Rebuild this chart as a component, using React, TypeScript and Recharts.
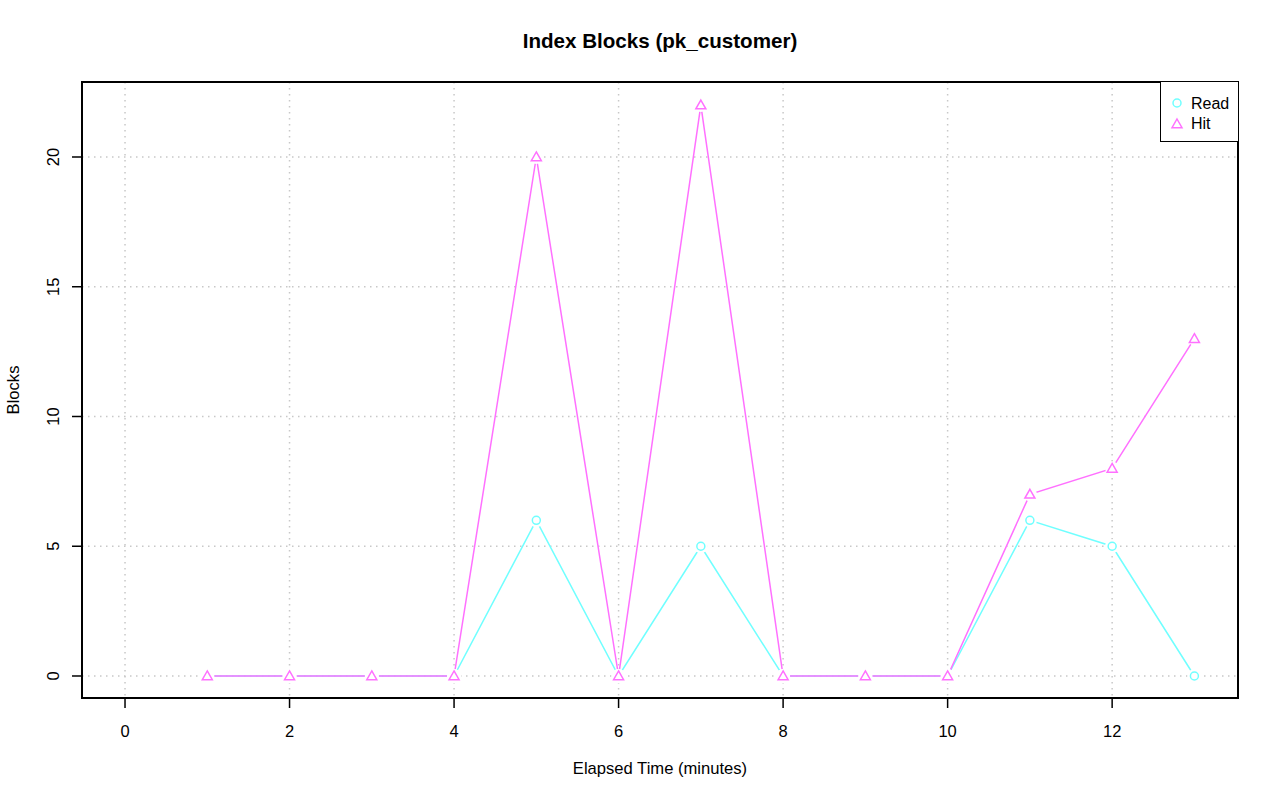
import { LineChart, Line, XAxis, YAxis, CartesianGrid, ReferenceArea } from "recharts";

const minutes = [1, 2, 3, 4, 5, 6, 7, 8, 9, 10, 11, 12, 13];
const readBlocks = [0, 0, 0, 0, 6, 0, 5, 0, 0, 0, 6, 5, 0];
const hitBlocks = [0, 0, 0, 0, 20, 0, 22, 0, 0, 0, 7, 8, 13];
const xTicks = [0, 2, 4, 6, 8, 10, 12];
const yTicks = [0, 5, 10, 15, 20];

const READ = "#70FFFF";
const HIT = "#FF70FF";
const FONT = "'Liberation Sans', Arial, Helvetica, sans-serif";

const X_DOMAIN = [-0.523, 13.53];
const Y_DOMAIN = [-0.848, 22.89];

const data = minutes.map((m, i) => ({
  minute: m,
  read: readBlocks[i],
  hit: hitBlocks[i],
}));

function CircleDot(props: any) {
  const { cx, cy } = props;
  if (cx == null || cy == null) return null;
  return (
    <g>
      <circle cx={cx} cy={cy} r={7} fill="#fff" />
      <circle cx={cx} cy={cy} r={4} fill="none" stroke={READ} strokeWidth={1.5} />
    </g>
  );
}

function TriangleDot(props: any) {
  const { cx, cy } = props;
  if (cx == null || cy == null) return null;
  const s = 5;
  return (
    <g>
      <circle cx={cx} cy={cy} r={7} fill="#fff" />
      <path
        d={`M${cx},${cy - s} L${cx + s},${cy + s * 0.75} L${cx - s},${cy + s * 0.75} Z`}
        fill="none"
        stroke={HIT}
        strokeWidth={1.5}
      />
    </g>
  );
}

function YTick(props: any) {
  const { y, payload } = props;
  return (
    <text
      x={59}
      y={y}
      transform={`rotate(-90, 59, ${y})`}
      textAnchor="middle"
      fontSize={16.5}
      fontFamily={FONT}
      fill="#000"
    >
      {payload.value}
    </text>
  );
}

function XTick(props: any) {
  const { x, payload } = props;
  return (
    <text x={x} y={737} textAnchor="middle" fontSize={16.5} fontFamily={FONT} fill="#000">
      {payload.value}
    </text>
  );
}

export default function App() {
  return (
    <div style={{ position: "absolute", left: 0, top: 0, width: 1280, height: 801, background: "#fff", fontFamily: FONT }}>
      <div style={{ position: "absolute", left: 0, width: 1320, top: 29, textAlign: "center", fontWeight: "bold", fontSize: 20.6 }}>
        Index Blocks (pk_customer)
      </div>
      <div style={{ position: "absolute", left: 0, width: 1320, top: 759, textAlign: "center", fontSize: 16.6 }}>
        Elapsed Time (minutes)
      </div>
      <div
        style={{
          position: "absolute",
          left: 14,
          top: 390,
          fontSize: 16.6,
          transform: "translate(-50%, -50%) rotate(-90deg)",
          whiteSpace: "nowrap",
        }}
      >
        Blocks
      </div>

      <LineChart width={1280} height={801} data={data} margin={{ top: 82, right: 42, bottom: 0, left: 0 }}>
        <CartesianGrid stroke="#c8c8c8" strokeDasharray="1.5 4.5" strokeWidth={1.5} horizontalValues={yTicks} verticalValues={xTicks} />
        <XAxis
          dataKey="minute"
          type="number"
          domain={X_DOMAIN}
          ticks={xTicks}
          allowDataOverflow
          height={103}
          tickSize={10}
          axisLine={false}
          tickLine={{ stroke: "#000", strokeWidth: 1.5 }}
          tick={<XTick />}
        />
        <YAxis
          type="number"
          domain={Y_DOMAIN}
          ticks={yTicks}
          allowDataOverflow
          width={82}
          tickSize={10}
          axisLine={false}
          tickLine={{ stroke: "#000", strokeWidth: 1.5 }}
          tick={<YTick />}
        />
        <Line dataKey="read" stroke={READ} strokeWidth={1.5} dot={<CircleDot />} isAnimationActive={false} />
        <Line dataKey="hit" stroke={HIT} strokeWidth={1.5} dot={<TriangleDot />} isAnimationActive={false} />
        <ReferenceArea
          x1={X_DOMAIN[0]}
          x2={X_DOMAIN[1]}
          y1={Y_DOMAIN[0]}
          y2={Y_DOMAIN[1]}
          fill="none"
          fillOpacity={0}
          stroke="#000"
          strokeWidth={2}
          ifOverflow="visible"
        />
      </LineChart>

      <div
        style={{
          position: "absolute",
          left: 1160,
          top: 82,
          width: 77,
          height: 59,
          borderLeft: "1.5px solid #000",
          borderBottom: "1.5px solid #000",
          background: "#fff",
          fontSize: 16,
        }}
      >
        <svg width={20} height={50} style={{ position: "absolute", left: 6, top: 11 }}>
          <circle cx={10} cy={10} r={4} fill="none" stroke={READ} strokeWidth={1.5} />
          <path d="M10,26 L15,34.75 L5,34.75 Z" fill="none" stroke={HIT} strokeWidth={1.5} />
        </svg>
        <div style={{ position: "absolute", left: 30, top: 13 }}>Read</div>
        <div style={{ position: "absolute", left: 30, top: 33 }}>Hit</div>
      </div>
    </div>
  );
}
